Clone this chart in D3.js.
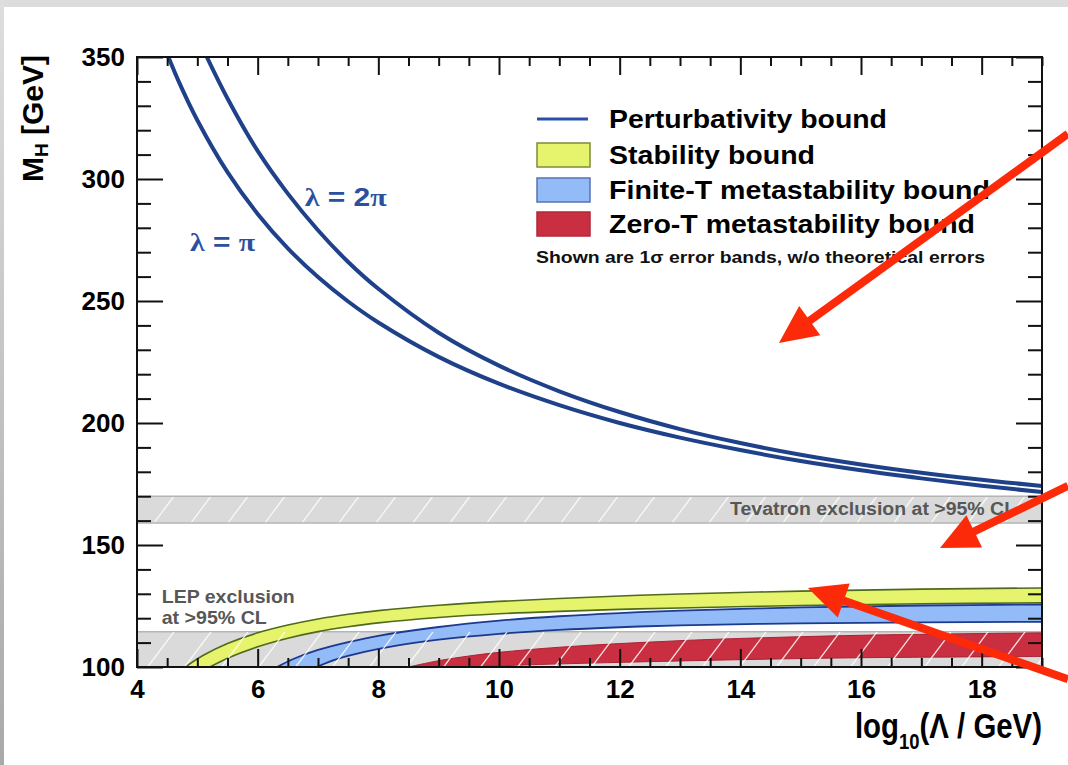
<!DOCTYPE html>
<html><head><meta charset="utf-8">
<script src="https://cdn.jsdelivr.net/npm/d3@7"></script>
<style>html,body{margin:0;padding:0;background:#fff;} svg{display:block;}</style>
</head><body>
<svg id="c" width="1068" height="765"></svg>
<script>
// ---------------- data ----------------
const xMajorTicks = [4, 6, 8, 10, 12, 14, 16, 18];
const yMajorTicks = [100, 150, 200, 250, 300, 350];

// Perturbativity bounds (M_H in GeV vs log10(Lambda/GeV))
const lambdaPiX  = [4.45, 4.7, 5, 5.5, 6, 6.5, 7, 7.5, 8, 9, 10, 11, 12, 13, 14, 15, 16, 17, 18, 19];
const lambdaPiM  = [354.3, 339.5, 324.1, 302.8, 285.7, 271.6, 259.8, 249.8, 241.2, 227.1, 216.1, 207.3, 200.0, 194.0, 188.9, 184.4, 180.6, 177.3, 174.3, 171.7];
const lambda2PiX = [5.1, 5.5, 6, 6.5, 7, 7.5, 8, 9, 10, 11, 12, 13, 14, 15, 16, 17, 18, 19];
const lambda2PiM = [353, 333, 311.5, 294, 279, 266, 255, 237, 223.5, 213, 204.5, 197.5, 191.8, 187, 183, 179.6, 176.7, 174.2];

// Stability bound (yellow band)
const stabUpX = [4.8, 5.1, 5.5, 6, 6.5, 7, 7.5, 8, 9, 10, 11, 12, 13, 15, 17, 19];
const stabUpM = [100, 104.8, 109.6, 114, 117.2, 119.7, 121.6, 123.1, 125.3, 126.9, 128.1, 129.1, 129.9, 131.1, 131.9, 132.4];
const stabLoX = [5.21, 5.5, 6, 6.5, 7, 7.5, 8, 9, 10, 11, 12, 13, 15, 17, 19];
const stabLoM = [100, 103.6, 108.3, 111.8, 114.5, 116.5, 118.1, 120.3, 121.8, 122.8, 123.6, 124.2, 125.2, 125.9, 126.3];

// Finite-T metastability bound (blue band)
const finUpX = [6.32, 6.6, 7, 7.5, 8, 9, 10, 11, 12, 13, 15, 17, 19];
const finUpM = [100, 103.4, 107, 110.2, 112.8, 116.4, 119, 120.8, 122.1, 123.1, 124.4, 125.2, 125.6];
const finLoX = [6.98, 7.3, 7.75, 8.3, 9, 10, 11, 12, 13, 15, 17, 19];
const finLoM = [100, 103.1, 106.1, 108.8, 111.2, 113.6, 115.2, 116.3, 117.1, 117.9, 118.3, 118.5];

// Zero-T metastability bound (red band)
const zeroUpX = [8.5, 9, 9.5, 10, 11, 12, 13, 14, 16, 19];
const zeroUpM = [100, 102.6, 104.5, 106, 108.1, 109.6, 110.8, 111.7, 113, 114];
const zeroLoX = [9.5, 10.5, 12, 14, 16, 19];
const zeroLoM = [100, 100.9, 101.9, 103, 103.8, 104.3];

// Exclusion ranges
const tevatronRange = [159, 170];
const lepRange = [100, 114.4];

// Legend
const legendLabels = ["Perturbativity bound", "Stability bound", "Finite-T metastability bound", "Zero-T metastability bound"];
const legendNote = "Shown are 1\u03c3 error bands, w/o theoretical errors";

// Annotation arrows (data coordinates: [xStart, MStart, xTip, MTip])
const arrows = [
  [19.43, 318.5, 14.64, 232.8],
  [19.43, 174.2, 17.31, 148.8],
  [19.43, 95.0, 15.12, 132.4]
];

// ---------------- drawing ----------------
const W = 1068, H = 765;
const X0 = 137, X1 = 1042, Y0 = 57, Y1 = 667;
const x = d3.scaleLinear().domain([4, 19]).range([X0, X1]);
const y = d3.scaleLinear().domain([100, 350]).range([Y1, Y0]);

const svg = d3.select("#c");
const defs = svg.append("defs");
const grad = defs.append("linearGradient").attr("id", "leftg").attr("x1", 0).attr("y1", 0).attr("x2", 0).attr("y2", 1);
grad.append("stop").attr("offset", "0%").attr("stop-color", "#dedede");
grad.append("stop").attr("offset", "100%").attr("stop-color", "#a9a9a9");

svg.append("rect").attr("width", W).attr("height", H).attr("fill", "#fff");
svg.append("rect").attr("x", 0).attr("y", 0).attr("width", W).attr("height", 7).attr("fill", "#dcdcdc");
svg.append("rect").attr("x", 0).attr("y", 0).attr("width", 4).attr("height", H).attr("fill", "url(#leftg)");

defs.append("clipPath").attr("id", "plotclip").append("rect")
  .attr("x", X0).attr("y", Y0).attr("width", X1 - X0).attr("height", Y1 - Y0);

const plot = svg.append("g").attr("clip-path", "url(#plotclip)");

function hatch(g, ytop, ybot, id) {
  defs.append("clipPath").attr("id", id).append("rect")
    .attr("x", X0).attr("y", ytop).attr("width", X1 - X0).attr("height", ybot - ytop);
  const hg = g.append("g").attr("clip-path", `url(#${id})`);
  const h = ybot - ytop;
  const step = 37, slope = 0.75;
  const xs = d3.range(X0 - h * slope - step, X1 + step, step);
  hg.selectAll("line").data(xs).join("line")
    .attr("x1", d => d).attr("y1", ybot)
    .attr("x2", d => d + h * slope).attr("y2", ytop)
    .attr("stroke", "#ffffff").attr("stroke-width", 1.3).attr("opacity", 0.85);
}

// Tevatron band
const tvT = y(tevatronRange[1]), tvB = y(tevatronRange[0]);
plot.append("rect").attr("x", X0).attr("y", tvT).attr("width", X1 - X0).attr("height", tvB - tvT).attr("fill", "#dadada");
hatch(plot, tvT, tvB, "tvclip");
plot.append("line").attr("x1", X0).attr("x2", X1).attr("y1", tvT).attr("y2", tvT).attr("stroke", "#b4b4b4").attr("stroke-width", 1.5);
plot.append("line").attr("x1", X0).attr("x2", X1).attr("y1", tvB).attr("y2", tvB).attr("stroke", "#b4b4b4").attr("stroke-width", 1.5);

// LEP band
const lpT = y(lepRange[1]), lpB = y(lepRange[0]);
plot.append("rect").attr("x", X0).attr("y", lpT).attr("width", X1 - X0).attr("height", lpB - lpT).attr("fill", "#dadada");
plot.append("line").attr("x1", X0).attr("x2", X1).attr("y1", lpT).attr("y2", lpT).attr("stroke", "#b4b4b4").attr("stroke-width", 1.5);

// Bands
const crv = d3.curveCatmullRom.alpha(0.5);
const area = d3.area().x(d => x(d[0])).y0(y(100)).y1(d => y(d[1])).curve(crv);
const line = d3.line().x(d => x(d[0])).y(d => y(d[1])).curve(crv);
function band(ux, um, lx, lm, fill, edge, ew) {
  const up = d3.zip(ux, um), lo = d3.zip(lx, lm);
  plot.append("path").attr("d", area(up) + area(lo)).attr("fill", fill).attr("fill-rule", "evenodd");
  plot.append("path").attr("d", line(up)).attr("fill", "none").attr("stroke", edge).attr("stroke-width", ew);
  plot.append("path").attr("d", line(lo)).attr("fill", "none").attr("stroke", edge).attr("stroke-width", ew);
}
band(stabUpX, stabUpM, stabLoX, stabLoM, "#e6f36c", "#4f6a1c", 1.6);
band(finUpX, finUpM, finLoX, finLoM, "#92bbf7", "#1c3a8e", 1.8);
band(zeroUpX, zeroUpM, zeroLoX, zeroLoM, "#c92f41", "#a82436", 1);

// LEP hatch on top
hatch(plot, lpT, lpB, "lpclip");

// Perturbativity curves
[[lambdaPiX, lambdaPiM], [lambda2PiX, lambda2PiM]].forEach(([xs, ms]) => {
  plot.append("path").attr("d", line(d3.zip(xs, ms))).attr("fill", "none")
    .attr("stroke", "#1f4189").attr("stroke-width", 4);
});

// Texts inside plot
const FONT = "'Liberation Sans', Arial, Helvetica, sans-serif";
const SERIF = "'Liberation Serif', 'DejaVu Serif', serif";
svg.append("text").attr("x", x(18.57)).attr("y", y(162.3)).attr("text-anchor", "end")
  .attr("font-family", FONT).attr("font-weight", "bold").attr("font-size", 18)
  .attr("textLength", 286).attr("lengthAdjust", "spacingAndGlyphs")
  .attr("fill", "#575757").text("Tevatron exclusion at >95% CL");
svg.append("text").attr("x", x(4.41)).attr("y", y(126.2))
  .attr("font-family", FONT).attr("font-weight", "bold").attr("font-size", 19)
  .attr("textLength", 133).attr("lengthAdjust", "spacingAndGlyphs")
  .attr("fill", "#575757").text("LEP exclusion");
svg.append("text").attr("x", x(4.41)).attr("y", y(117.6))
  .attr("font-family", FONT).attr("font-weight", "bold").attr("font-size", 19)
  .attr("textLength", 105).attr("lengthAdjust", "spacingAndGlyphs")
  .attr("fill", "#575757").text("at >95% CL");

function lamLabel(xv, mv, two, len) {
  const t = svg.append("text").attr("x", x(xv)).attr("y", y(mv)).attr("font-size", 25).attr("font-weight", "bold")
    .attr("fill", "#2c50a0").attr("textLength", len).attr("lengthAdjust", "spacingAndGlyphs");
  t.append("tspan").attr("font-family", SERIF).text("\u03bb");
  t.append("tspan").attr("font-family", FONT).text(two ? " = 2" : " = ");
  t.append("tspan").attr("font-family", SERIF).text("\u03c0");
}
lamLabel(6.78, 288.9, true, 82);
lamLabel(4.88, 270.5, false, 65);

// Axes
const minorX = d3.range(4, 19.001, 0.5).filter(v => !xMajorTicks.includes(v));
const minorY = d3.range(100, 350.001, 10).filter(v => !yMajorTicks.includes(v));
function styleAxis(g) {
  g.select(".domain").remove();
  g.selectAll(".tick line").attr("stroke", "#111").attr("stroke-width", 2);
  g.selectAll(".tick text").attr("font-family", FONT).attr("font-weight", "bold").attr("font-size", 26).attr("fill", "#000");
}
svg.append("g").attr("transform", `translate(0,${Y1})`)
  .call(d3.axisBottom(x).tickValues(xMajorTicks).tickSize(-18).tickPadding(13).tickFormat(d3.format("d"))).call(styleAxis);
svg.append("g").attr("transform", `translate(0,${Y1})`)
  .call(d3.axisBottom(x).tickValues(minorX).tickSize(-9).tickFormat("")).call(styleAxis);
svg.append("g").attr("transform", `translate(0,${Y0})`)
  .call(d3.axisTop(x).tickValues(xMajorTicks).tickSize(-18).tickFormat("")).call(styleAxis);
svg.append("g").attr("transform", `translate(0,${Y0})`)
  .call(d3.axisTop(x).tickValues(minorX).tickSize(-9).tickFormat("")).call(styleAxis);
svg.append("g").attr("transform", `translate(${X0},0)`)
  .call(d3.axisLeft(y).tickValues(yMajorTicks).tickSize(-26).tickPadding(12).tickFormat(d3.format("d"))).call(styleAxis);
svg.append("g").attr("transform", `translate(${X0},0)`)
  .call(d3.axisLeft(y).tickValues(minorY).tickSize(-14).tickFormat("")).call(styleAxis);
svg.append("g").attr("transform", `translate(${X1},0)`)
  .call(d3.axisRight(y).tickValues(yMajorTicks).tickSize(-26).tickFormat("")).call(styleAxis);
svg.append("g").attr("transform", `translate(${X1},0)`)
  .call(d3.axisRight(y).tickValues(minorY).tickSize(-14).tickFormat("")).call(styleAxis);
svg.append("rect").attr("x", X0).attr("y", Y0).attr("width", X1 - X0).attr("height", Y1 - Y0)
  .attr("fill", "none").attr("stroke", "#111").attr("stroke-width", 2);

// Axis titles
const yt = svg.append("text").attr("transform", `translate(43,${Y0 - 2}) rotate(-90)`).attr("text-anchor", "end")
  .attr("font-family", FONT).attr("font-weight", "bold").attr("font-size", 30).attr("fill", "#000");
yt.append("tspan").text("M");
yt.append("tspan").attr("font-size", 19).attr("dy", 5).text("H");
yt.append("tspan").attr("dy", -5).text(" [GeV]");

const xt = svg.append("g").attr("transform", `translate(${X1},738) scale(0.84,1)`)
  .append("text").attr("text-anchor", "end")
  .attr("font-family", FONT).attr("font-weight", "bold").attr("font-size", 35).attr("fill", "#000");
xt.append("tspan").text("log");
xt.append("tspan").attr("font-size", 22).attr("dy", 11).text("10");
xt.append("tspan").attr("dy", -11).text("(\u039b / GeV)");

// Legend
const lg = svg.append("g");
const rowY = [119, 155, 190, 224];
const legW = [278, 206, 381, 366];
lg.append("line").attr("x1", 537).attr("x2", 588).attr("y1", rowY[0]).attr("y2", rowY[0]).attr("stroke", "#2a4fa6").attr("stroke-width", 3);
const boxes = [["#e6f36c", "#7b8c3c"], ["#92bbf7", "#5a70b4"], ["#c92f41", "#b0283a"]];
boxes.forEach((b, i) => {
  lg.append("rect").attr("x", 537).attr("y", rowY[i + 1] - 12).attr("width", 53).attr("height", 24)
    .attr("fill", b[0]).attr("stroke", b[1]).attr("stroke-width", 1.5);
});
legendLabels.forEach((t, i) => {
  lg.append("text").attr("x", 609).attr("y", rowY[i] + 9).attr("font-family", FONT).attr("font-weight", "bold")
    .attr("font-size", 25).attr("textLength", legW[i]).attr("lengthAdjust", "spacingAndGlyphs").attr("fill", "#000").text(t);
});
lg.append("text").attr("x", 536).attr("y", 263).attr("font-family", FONT).attr("font-weight", "bold")
  .attr("font-size", 17).attr("textLength", 449).attr("lengthAdjust", "spacingAndGlyphs").attr("fill", "#111").text(legendNote);

// Arrows
const ag = svg.append("g");
arrows.forEach(([xs, ms, xe, me]) => {
  const sx = x(xs), sy = y(ms), ex = x(xe), ey = y(me);
  const dx = ex - sx, dy = ey - sy, L = Math.hypot(dx, dy);
  const ux = dx / L, uy = dy / L, hl = 38, hw = 18;
  const bx = ex - ux * hl, by = ey - uy * hl;
  ag.append("line").attr("x1", sx).attr("y1", sy).attr("x2", bx + ux * 4).attr("y2", by + uy * 4)
    .attr("stroke", "#fc2a08").attr("stroke-width", 8);
  ag.append("polygon").attr("points", [[ex, ey], [bx - uy * hw, by + ux * hw], [bx + uy * hw, by - ux * hw]].map(p => p.join(",")).join(" "))
    .attr("fill", "#fc2a08");
});
</script>
</body></html>
